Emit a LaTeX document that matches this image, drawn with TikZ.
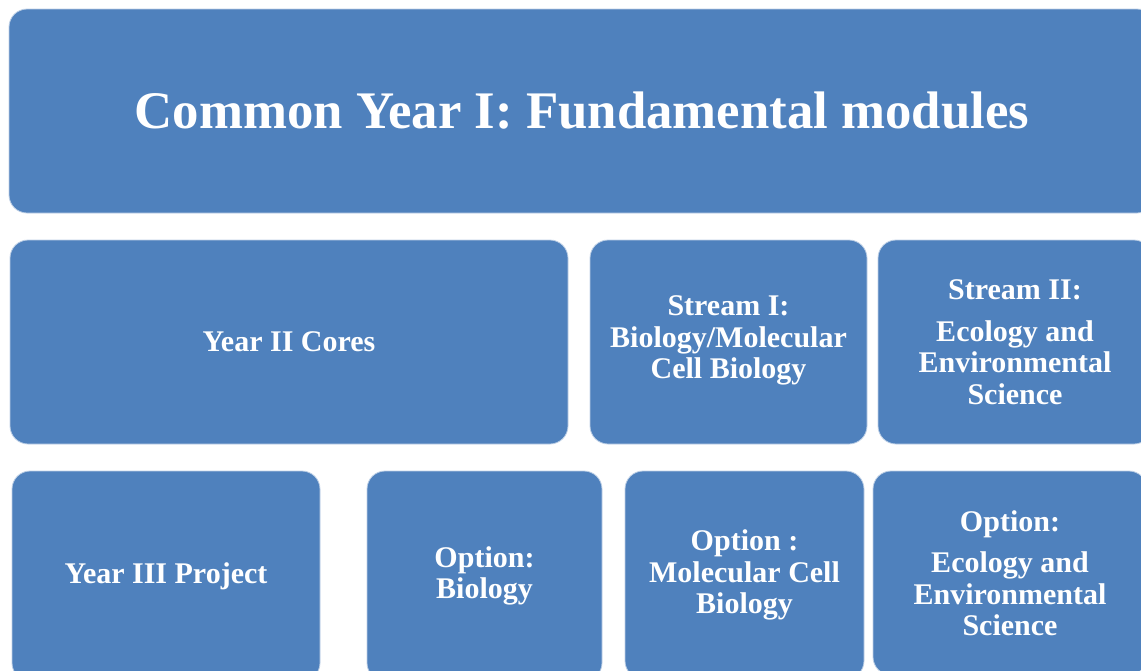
\documentclass[tikz,border=0pt]{standalone}
\usepackage{fontspec}
\setmainfont{Liberation Serif}
\definecolor{boxblue}{RGB}{79,129,189}
\definecolor{boxedge}{RGB}{190,208,230}
\begin{document}
\begin{tikzpicture}[x=1pt,y=-1pt,
  box/.style={draw=boxedge, line width=0.8pt, fill=boxblue, rounded corners=18pt,
    text=white, align=center, inner sep=0pt, outer sep=0pt, anchor=north west},
  big/.style={font=\fontsize{52.8}{60}\selectfont\bfseries},
  mid/.style={font=\fontsize{30}{31.5}\selectfont\bfseries}]
\useasboundingbox (0,0) rectangle (1141,670);
\clip (0,0) rectangle (1141,670);
\node[box, big, minimum width=1146pt, minimum height=204pt] (top) at (9,9) {Common Year I: Fundamental modules};
\node[box, mid, minimum width=558pt, minimum height=204pt] (y2) at (10,240) {Year II Cores};
\node[box, mid, minimum width=277pt, minimum height=204pt] (s1) at (590,240) {Stream I:\\Biology/Molecular\\Cell Biology\rule[-9pt]{0pt}{0pt}};
\node[box, mid, minimum width=274pt, minimum height=204pt] (s2) at (878,240) {Stream II:\\[10pt]Ecology and\\Environmental\\Science};
\node[box, mid, minimum width=308pt, minimum height=210pt] (y3) at (12,471) {Year III Project};
\node[box, mid, minimum width=235pt, minimum height=210pt] (ob) at (367,471) {Option:\\Biology};
\node[box, mid, minimum width=239pt, minimum height=208pt] (om) at (625,471) {Option :\\Molecular Cell\\Biology};
\node[box, mid, minimum width=274pt, minimum height=204pt] (oe) at (873,471) {Option:\\[10pt]Ecology and\\Environmental\\Science};
\end{tikzpicture}
\end{document}
